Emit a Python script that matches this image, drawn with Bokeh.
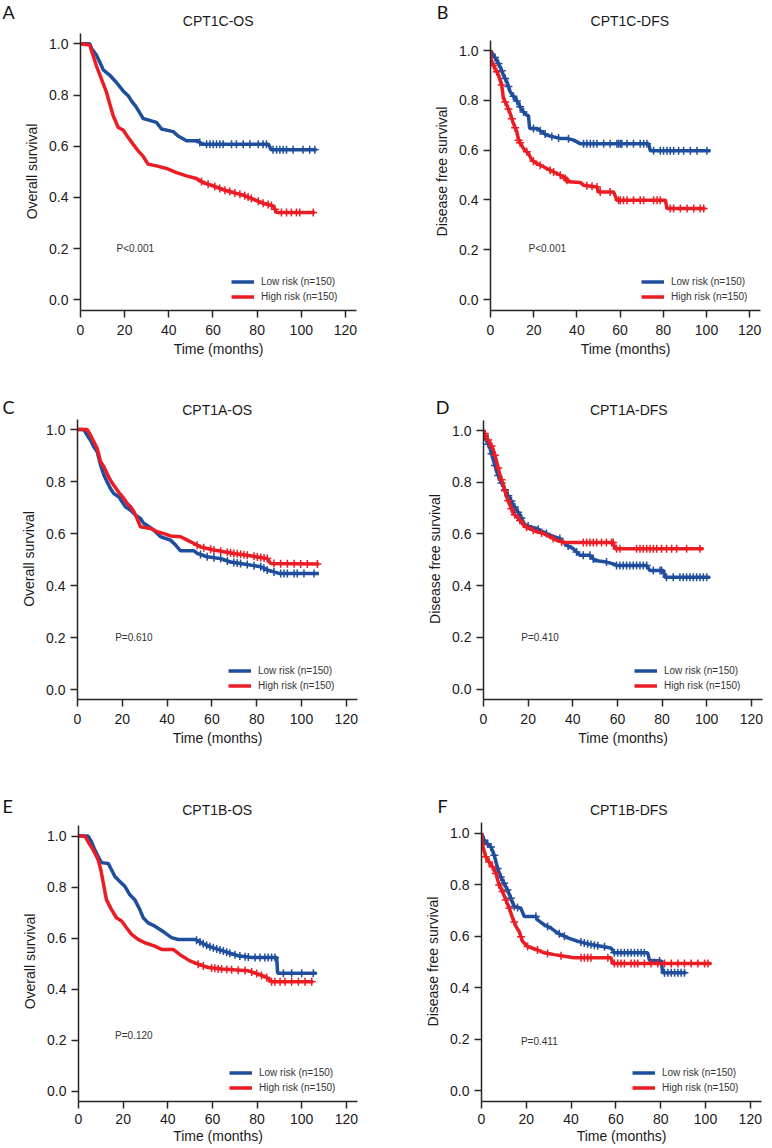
import numpy as np
from bokeh.plotting import figure
from bokeh.layouts import column, row
from bokeh.models import Range1d, FixedTicker, PrintfTickFormatter, Label, Legend, LegendItem
from bokeh.embed import file_html
from bokeh.resources import INLINE

# ---------------- data (months, survival probability) ----------------
X_TICKS = [0, 20, 40, 60, 80, 100, 120]
Y_TICKS = [0.0, 0.2, 0.4, 0.6, 0.8, 1.0]
LOW_LABEL = "Low risk (n=150)"
HIGH_LABEL = "High risk (n=150)"

A_title, A_ylabel, A_p = "CPT1C-OS", "Overall survival", "P<0.001"
A_low_t = [0, 4.2, 5.0, 7.2, 9.5, 10.3, 13.3, 16.3, 19.3, 21.6, 23.1, 25.4, 28.4, 30.6, 34.4, 36.7, 42.0, 44.2, 48.0, 53.3, 54.8, 85.0, 86.5, 106.9]
A_low_s = [1.0, 1.0, 0.982, 0.956, 0.914, 0.898, 0.877, 0.849, 0.816, 0.797, 0.777, 0.751, 0.708, 0.703, 0.693, 0.667, 0.657, 0.640, 0.621, 0.621, 0.608, 0.608, 0.586, 0.586]
A_low_c = [54.0, 57.1, 58.6, 60.1, 61.6, 63.1, 64.6, 68.4, 70.6, 73.7, 76.7, 80.5, 82.7, 84.2, 87.2, 88.8, 90.3, 91.8, 93.3, 96.3, 100.8, 103.8, 106.1]
A_high_t = [0, 4.2, 5.0, 7.2, 9.5, 11.8, 13.3, 14.8, 17.1, 19.3, 21.6, 23.8, 26.1, 28.4, 30.6, 34.4, 38.9, 43.5, 48.0, 52.5, 55.5, 60.1, 64.6, 69.1, 73.7, 78.2, 82.7, 87.2, 88.8, 106.1]
A_high_s = [1.0, 0.995, 0.973, 0.914, 0.862, 0.810, 0.764, 0.719, 0.673, 0.663, 0.634, 0.608, 0.582, 0.560, 0.530, 0.523, 0.513, 0.497, 0.484, 0.474, 0.458, 0.445, 0.430, 0.419, 0.409, 0.393, 0.377, 0.367, 0.341, 0.341]
A_high_c = [54.8, 57.8, 60.8, 63.1, 65.4, 67.6, 69.9, 72.2, 74.4, 75.9, 77.4, 80.5, 82.7, 85.0, 86.5, 88.0, 91.0, 93.3, 95.5, 97.8, 99.3, 105.4]

B_title, B_ylabel, B_p = "CPT1C-DFS", "Disease free survival", "P<0.001"
B_low_t = [0, 1.4, 2.9, 4.5, 6.0, 7.6, 9.1, 11.4, 13.0, 14.5, 16.8, 17.6, 18.1, 21.5, 23.8, 26.1, 29.2, 32.3, 35.4, 38.5, 41.5, 73.2, 74.0, 101.8]
B_low_s = [1.0, 0.981, 0.961, 0.934, 0.901, 0.874, 0.834, 0.807, 0.787, 0.760, 0.740, 0.738, 0.687, 0.687, 0.673, 0.660, 0.653, 0.647, 0.647, 0.640, 0.626, 0.626, 0.597, 0.597]
B_low_c = [2.1, 3.7, 5.2, 6.8, 8.3, 10.6, 12.2, 13.7, 15.3, 19.9, 23.0, 25.3, 28.4, 31.5, 36.1, 43.1, 44.6, 46.2, 47.7, 49.3, 52.4, 55.4, 58.5, 59.3, 60.1, 60.8, 63.2, 66.2, 69.3, 70.9, 72.4, 75.5, 78.6, 80.1, 81.7, 83.2, 84.8, 87.1, 89.4, 92.5, 95.6, 100.2]
B_high_t = [0, 0.3, 0.6, 2.1, 3.7, 5.2, 6.0, 7.6, 9.1, 10.6, 12.2, 13.0, 15.3, 17.6, 19.1, 21.5, 24.5, 27.6, 30.7, 33.8, 36.1, 41.5, 43.1, 49.3, 50.0, 57.0, 58.5, 81.0, 81.7, 99.5]
B_high_s = [1.0, 0.968, 0.954, 0.928, 0.901, 0.861, 0.807, 0.780, 0.747, 0.707, 0.673, 0.640, 0.606, 0.586, 0.560, 0.546, 0.533, 0.519, 0.506, 0.493, 0.473, 0.470, 0.459, 0.452, 0.432, 0.432, 0.399, 0.399, 0.365, 0.365]
B_high_c = [1.4, 2.9, 5.2, 6.8, 8.3, 9.9, 11.4, 13.0, 13.7, 16.8, 19.9, 23.0, 27.6, 29.2, 32.3, 34.6, 35.4, 44.6, 47.0, 49.3, 50.8, 55.4, 59.3, 60.1, 61.6, 63.2, 66.2, 69.3, 70.9, 75.5, 77.1, 78.6, 83.2, 84.8, 87.9, 91.0, 94.1, 97.1, 98.7]

C_title, C_ylabel, C_p = "CPT1A-OS", "Overall survival", "P=0.610"
C_low_t = [0, 2.8, 4.3, 5.8, 7.3, 8.8, 10.3, 11.8, 13.2, 14.7, 16.2, 18.5, 19.9, 21.4, 23.7, 25.9, 28.1, 29.6, 31.1, 34.1, 37.1, 41.5, 43.8, 46.0, 52.0, 53.5, 58.0, 63.9, 68.3, 72.8, 77.3, 81.8, 84.7, 87.7, 90.0, 107.8]
C_low_s = [1.0, 1.0, 0.978, 0.959, 0.933, 0.914, 0.863, 0.824, 0.799, 0.773, 0.754, 0.741, 0.722, 0.703, 0.690, 0.671, 0.658, 0.639, 0.632, 0.613, 0.588, 0.575, 0.556, 0.534, 0.534, 0.524, 0.511, 0.504, 0.491, 0.485, 0.479, 0.473, 0.460, 0.453, 0.447, 0.447]
C_low_c = [54.9, 57.9, 60.9, 63.9, 66.9, 69.8, 71.3, 72.8, 75.8, 78.8, 81.8, 83.2, 84.7, 87.7, 90.7, 92.2, 93.7, 96.7, 98.1, 101.1, 105.6]
C_high_t = [0, 4.3, 5.8, 7.3, 8.8, 10.3, 11.8, 13.2, 14.7, 16.2, 18.5, 20.7, 22.2, 23.7, 25.2, 26.6, 28.1, 32.6, 35.6, 38.6, 41.5, 46.0, 49.0, 52.0, 54.9, 57.9, 60.9, 65.4, 69.8, 75.8, 84.7, 86.2, 107.8]
C_high_s = [1.0, 1.0, 0.978, 0.953, 0.927, 0.876, 0.857, 0.831, 0.805, 0.786, 0.758, 0.735, 0.716, 0.703, 0.684, 0.658, 0.626, 0.620, 0.607, 0.600, 0.591, 0.588, 0.575, 0.562, 0.549, 0.543, 0.537, 0.530, 0.524, 0.517, 0.504, 0.485, 0.483]
C_high_c = [53.4, 56.4, 59.4, 60.9, 63.9, 66.9, 68.3, 69.8, 71.3, 72.8, 74.3, 75.8, 78.8, 80.3, 81.8, 83.3, 84.7, 87.7, 90.7, 93.7, 96.7, 99.6, 102.6, 107.1]

D_title, D_ylabel, D_p = "CPT1A-DFS", "Disease free survival", "P=0.410"
D_low_t = [0, 1.3, 2.8, 4.3, 5.8, 7.3, 8.8, 10.3, 11.8, 13.3, 14.8, 16.3, 18.5, 20.8, 23.8, 26.7, 29.7, 34.2, 37.2, 40.2, 43.2, 47.7, 49.9, 55.1, 58.1, 59.6, 73.1, 74.6, 80.6, 81.3, 101.5]
D_low_s = [1.0, 0.961, 0.935, 0.889, 0.843, 0.811, 0.785, 0.758, 0.739, 0.713, 0.693, 0.674, 0.634, 0.628, 0.621, 0.608, 0.595, 0.582, 0.556, 0.543, 0.517, 0.517, 0.497, 0.491, 0.484, 0.478, 0.478, 0.458, 0.458, 0.432, 0.432]
D_low_c = [0.6, 2.1, 3.6, 5.1, 6.6, 8.1, 9.6, 11.1, 12.5, 14.0, 15.5, 17.0, 20.0, 24.5, 28.2, 34.2, 37.9, 41.7, 44.7, 47.7, 49.2, 55.1, 59.6, 61.1, 62.6, 64.1, 65.6, 67.1, 68.6, 70.1, 71.6, 73.1, 76.1, 79.1, 79.8, 82.0, 85.0, 88.0, 89.5, 91.0, 92.5, 94.0, 95.5, 97.0, 98.5, 100.0]
D_high_t = [0, 1.3, 2.8, 4.3, 5.8, 7.3, 8.8, 10.3, 11.8, 13.3, 15.5, 18.5, 20.8, 23.8, 26.7, 29.7, 32.7, 35.7, 58.1, 58.9, 98.5]
D_high_s = [1.0, 0.974, 0.954, 0.928, 0.883, 0.830, 0.791, 0.745, 0.713, 0.680, 0.661, 0.628, 0.621, 0.608, 0.602, 0.589, 0.576, 0.567, 0.567, 0.543, 0.543]
D_high_c = [0.6, 2.1, 3.6, 5.1, 6.6, 8.1, 9.6, 11.1, 12.5, 14.0, 16.3, 19.3, 22.3, 26.0, 31.2, 35.0, 44.7, 46.2, 47.7, 49.2, 50.7, 52.9, 55.1, 57.4, 58.1, 59.6, 61.1, 68.6, 70.1, 71.6, 73.1, 74.6, 76.1, 77.6, 79.8, 82.0, 84.3, 86.5, 91.0, 97.0]

E_title, E_ylabel, E_p = "CPT1B-OS", "Overall survival", "P=0.120"
E_low_t = [0, 4.3, 5.8, 7.3, 8.8, 10.3, 13.3, 14.8, 16.3, 18.5, 20.8, 23.0, 25.2, 27.5, 29.0, 31.2, 34.2, 36.5, 38.7, 41.7, 44.7, 52.1, 55.1, 58.1, 62.6, 67.1, 71.6, 77.6, 88.8, 89.2, 106.7]
E_low_s = [1.0, 1.0, 0.978, 0.946, 0.920, 0.896, 0.893, 0.868, 0.842, 0.822, 0.803, 0.770, 0.751, 0.712, 0.680, 0.660, 0.647, 0.634, 0.621, 0.602, 0.595, 0.595, 0.582, 0.569, 0.556, 0.543, 0.531, 0.524, 0.524, 0.463, 0.463]
E_low_c = [52.9, 54.4, 55.9, 57.4, 58.9, 60.4, 61.9, 63.4, 64.9, 66.4, 67.8, 70.1, 72.3, 74.6, 76.1, 79.1, 81.3, 83.5, 85.0, 86.5, 88.0, 91.8, 95.5, 100.0, 105.2]
E_high_t = [0, 2.8, 4.3, 6.6, 8.8, 10.0, 11.1, 12.5, 14.8, 17.0, 19.3, 21.5, 23.8, 26.7, 29.7, 34.2, 37.2, 42.4, 46.2, 49.9, 53.6, 58.1, 64.1, 76.1, 80.6, 84.3, 86.5, 105.2]
E_high_s = [1.0, 1.0, 0.978, 0.946, 0.907, 0.868, 0.816, 0.751, 0.712, 0.680, 0.667, 0.641, 0.615, 0.595, 0.582, 0.569, 0.556, 0.556, 0.531, 0.511, 0.498, 0.485, 0.479, 0.472, 0.459, 0.446, 0.429, 0.429]
E_high_c = [53.6, 55.9, 59.6, 61.1, 62.6, 64.1, 66.4, 68.6, 71.6, 74.6, 77.6, 79.8, 82.0, 84.3, 86.5, 88.0, 90.3, 92.5, 95.5, 98.5, 101.5, 104.5]

F_title, F_ylabel, F_p = "CPT1B-DFS", "Disease free survival", "P=0.411"
F_low_t = [0, 1.2, 2.7, 4.2, 5.7, 7.2, 8.6, 10.1, 11.6, 13.1, 14.6, 17.6, 19.1, 24.3, 25.0, 28.0, 31.0, 34.0, 38.5, 42.9, 48.9, 57.8, 59.3, 74.2, 75.0, 80.2, 80.9, 91.4]
F_low_s = [1.0, 0.972, 0.959, 0.946, 0.914, 0.863, 0.830, 0.805, 0.779, 0.747, 0.715, 0.708, 0.676, 0.676, 0.663, 0.644, 0.631, 0.612, 0.593, 0.580, 0.567, 0.554, 0.535, 0.535, 0.506, 0.503, 0.458, 0.458]
F_low_c = [1.2, 2.7, 4.2, 5.7, 7.2, 8.6, 10.1, 11.6, 13.1, 14.6, 16.1, 24.3, 29.5, 34.7, 37.0, 44.4, 45.9, 47.4, 48.9, 50.4, 51.9, 54.9, 59.3, 60.8, 62.3, 63.8, 65.3, 66.8, 68.3, 69.8, 71.3, 72.7, 79.5, 81.7, 83.2, 84.7, 86.2, 87.7, 89.1, 90.6]
F_high_t = [0, 0.4, 1.9, 3.4, 4.9, 6.4, 7.9, 9.4, 10.9, 12.4, 13.9, 15.4, 16.8, 18.3, 20.6, 24.3, 28.0, 32.5, 37.0, 41.4, 57.8, 58.6, 102.6]
F_high_s = [1.0, 0.955, 0.908, 0.888, 0.869, 0.843, 0.798, 0.773, 0.740, 0.708, 0.670, 0.638, 0.618, 0.580, 0.560, 0.548, 0.535, 0.528, 0.522, 0.516, 0.516, 0.494, 0.494]
F_high_c = [0.4, 1.9, 3.4, 4.9, 6.4, 7.9, 9.4, 10.9, 12.4, 14.6, 17.6, 20.6, 25.0, 29.5, 35.5, 44.4, 45.9, 47.4, 48.9, 56.4, 59.3, 60.8, 62.3, 63.8, 66.8, 68.3, 69.8, 72.7, 75.7, 78.7, 81.7, 84.7, 87.7, 90.6, 93.6, 96.6, 99.6, 101.1]

# ---------------- styles & layout ----------------
BLUE = "#1f4e9c"
RED = "#ec1c24"
AXIS_C = "#262626"
FONT = "Liberation Sans"
LETTER_FONT = "Lato"
X_END = 125.0
PAGE_W = 768

# each row: a header strip (letters + titles) then the two plots
ROWS = [
    dict(hdr_top=0, hdr_h=30, H=346, mbt=2, mbb=66, s1=7, s2=3),
    dict(hdr_top=376, hdr_h=42, H=346, mbt=0, mbb=65, s1=7, s2=3),
    dict(hdr_top=764, hdr_h=55, H=327, mbt=2, mbb=43, s1=5, s2=1),
]
# per panel: row, x0, width, left/right borders, page y of the 1.0 and 0.0 ticks
GEOM = {
    "A": dict(r=0, x0=0, W=388, mbl=80, mbr=32, y1=43.3, y0=299.3),
    "B": dict(r=0, x0=388, W=380, mbl=102, mbr=8, y1=50.0, y0=299.0),
    "C": dict(r=1, x0=0, W=388, mbl=77, mbr=31, y1=429.0, y0=689.3),
    "D": dict(r=1, x0=388, W=380, mbl=95, mbr=6, y1=430.0, y0=688.5),
    "E": dict(r=2, x0=0, W=388, mbl=78, mbr=31, y1=835.7, y0=1092.7),
    "F": dict(r=2, x0=388, W=380, mbl=93, mbr=7, y1=832.7, y0=1092.0),
}
LETTER_POS = {"A": (2, 11, "left"), "B": (442, 11, "center"), "C": (2, 406, "left"),
              "D": (442, 406, "center"), "E": (2, 805, "left"), "F": (442, 805, "center")}
TITLE_POS = {"A": (217.7, 20), "B": (629.3, 20), "C": (216.7, 409.0), "D": (628.3, 409.0),
             "E": (216.7, 809), "F": (628.3, 809)}
P_POS = {"A": (16.3, 0.20), "B": (17.6, 0.204), "C": (16.8, 0.202), "D": (16.9, 0.20),
         "E": (16.4, 0.218), "F": (17.6, 0.19)}


def header(ri, keys, titles):
    rw = ROWS[ri]
    h = rw["hdr_h"]
    p = figure(width=PAGE_W, height=h, x_range=Range1d(0, PAGE_W), y_range=Range1d(h, 0),
               output_backend="svg", toolbar_location=None,
               x_axis_location=None, y_axis_location=None,
               min_border_left=0, min_border_right=0, min_border_top=0, min_border_bottom=0)
    p.grid.visible = False
    p.outline_line_color = None
    p.background_fill_color = "white"
    p.border_fill_color = "white"
    for k, t in zip(keys, titles):
        lx, ly, la = LETTER_POS[k]
        p.add_layout(Label(x=lx, y=ly - rw["hdr_top"], text=k, text_font=LETTER_FONT,
                           text_font_size="18px", text_color="#111111",
                           text_align=la, text_baseline="middle"))
        tx, ty = TITLE_POS[k]
        p.add_layout(Label(x=tx, y=ty - rw["hdr_top"], text=t, text_font=FONT,
                           text_font_size="14px", text_color="#1a1a1a",
                           text_align="center", text_baseline="middle"))
    return p


def panel(key, ylabel, ptext, lt, ls, lc, ht, hs, hc):
    g = GEOM[key]
    rw = ROWS[g["r"]]
    fig_top = rw["hdr_top"] + rw["hdr_h"]
    f_top = fig_top + rw["mbt"]
    f_bot = fig_top + rw["H"] - rw["mbb"]
    s = g["y0"] - g["y1"]
    y_hi = 1.0 + (g["y1"] - f_top) / s
    y_lo = -(f_bot - g["y0"]) / s

    p = figure(width=g["W"], height=rw["H"], x_range=Range1d(0, X_END), y_range=Range1d(y_lo, y_hi),
               output_backend="svg", toolbar_location=None,
               min_border_left=g["mbl"], min_border_right=g["mbr"],
               min_border_top=rw["mbt"], min_border_bottom=rw["mbb"])
    p.grid.visible = False
    p.outline_line_color = None
    p.background_fill_color = "white"
    p.border_fill_color = "white"

    for ax in (p.xaxis[0], p.yaxis[0]):
        ax.axis_line_color = AXIS_C
        ax.axis_line_width = 1.5
        ax.major_tick_line_color = AXIS_C
        ax.major_tick_line_width = 1.5
        ax.major_tick_out = 7
        ax.major_tick_in = 0
        ax.minor_tick_line_color = None
        ax.major_label_text_font = FONT
        ax.major_label_text_font_size = "14px"
        ax.major_label_text_color = "#1a1a1a"
        ax.axis_label_text_font = FONT
        ax.axis_label_text_font_size = "14px"
        ax.axis_label_text_font_style = "normal"
        ax.axis_label_text_color = "#1a1a1a"
    p.xaxis.ticker = FixedTicker(ticks=X_TICKS)
    p.yaxis.ticker = FixedTicker(ticks=Y_TICKS)
    p.yaxis.formatter = PrintfTickFormatter(format="%.1f")
    p.yaxis.bounds = (y_lo, 1.04)
    p.xaxis.axis_label = "Time (months)"
    p.yaxis.axis_label = ylabel
    p.xaxis.major_label_standoff = rw["s1"]
    p.xaxis.axis_label_standoff = rw["s2"]
    p.yaxis.major_label_standoff = 5
    p.yaxis.axis_label_standoff = 6

    r_low = p.line(lt, ls, line_color=BLUE, line_width=3.5)
    p.scatter(lc, np.interp(lc, lt, ls), marker="cross", size=8, line_color=BLUE, line_width=1.5)
    r_high = p.line(ht, hs, line_color=RED, line_width=3.5)
    p.scatter(hc, np.interp(hc, ht, hs), marker="cross", size=8, line_color=RED, line_width=1.5)

    leg = Legend(items=[LegendItem(label=LOW_LABEL, renderers=[r_low]),
                        LegendItem(label=HIGH_LABEL, renderers=[r_high])],
                 location=(151, 6.5), orientation="vertical",
                 glyph_width=23, glyph_height=15, label_height=15, label_standoff=7,
                 spacing=0, padding=0, margin=0, border_line_color=None,
                 background_fill_alpha=0, label_text_font=FONT,
                 label_text_font_size="10px", label_text_color="#333333")
    p.add_layout(leg)

    px, py = P_POS[key]
    p.add_layout(Label(x=px, y=py, text=ptext, text_font=FONT, text_font_size="10px",
                       text_color="#333333", text_align="left", text_baseline="middle"))
    return p


hdr1 = header(0, ["A", "B"], [A_title, B_title])
hdr2 = header(1, ["C", "D"], [C_title, D_title])
hdr3 = header(2, ["E", "F"], [E_title, F_title])

pA = panel("A", A_ylabel, A_p, A_low_t, A_low_s, A_low_c, A_high_t, A_high_s, A_high_c)
pB = panel("B", B_ylabel, B_p, B_low_t, B_low_s, B_low_c, B_high_t, B_high_s, B_high_c)
pC = panel("C", C_ylabel, C_p, C_low_t, C_low_s, C_low_c, C_high_t, C_high_s, C_high_c)
pD = panel("D", D_ylabel, D_p, D_low_t, D_low_s, D_low_c, D_high_t, D_high_s, D_high_c)
pE = panel("E", E_ylabel, E_p, E_low_t, E_low_s, E_low_c, E_high_t, E_high_s, E_high_c)
pF = panel("F", F_ylabel, F_p, F_low_t, F_low_s, F_low_c, F_high_t, F_high_s, F_high_c)

layout = column(hdr1, row(pA, pB), hdr2, row(pC, pD), hdr3, row(pE, pF))
open("out.html", "w").write(file_html(layout, INLINE))
